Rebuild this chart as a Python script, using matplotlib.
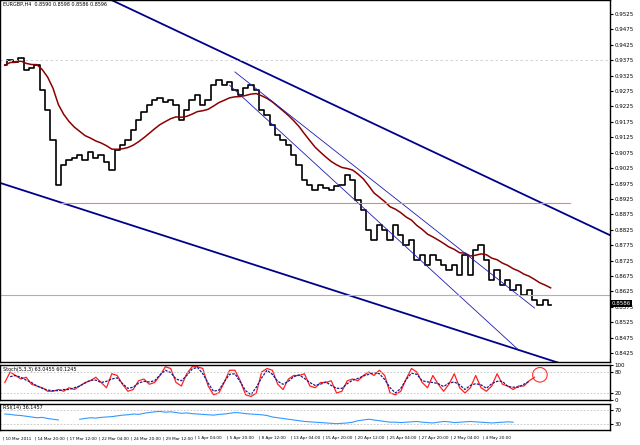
import numpy as np
import pandas as pd
import matplotlib
matplotlib.use("Agg")
import matplotlib.pyplot as plt

close = [0.9359,0.9375,0.9369,0.9382,0.9343,0.9349,0.9359,0.9278,0.9213,0.9116,0.8970,0.9035,0.9051,0.9057,0.9067,0.9051,0.9077,0.9057,0.9067,0.9044,0.9018,0.9083,0.9099,0.9116,0.9148,0.9181,0.9207,0.9229,0.9246,0.9252,0.9239,0.9246,0.9229,0.9181,0.9213,0.9246,0.9262,0.9229,0.9246,0.9294,0.9310,0.9294,0.9304,0.9278,0.9262,0.9284,0.9294,0.9278,0.9213,0.9197,0.9164,0.9132,0.9116,0.9099,0.9067,0.9035,0.8986,0.8970,0.8953,0.8970,0.8960,0.8953,0.8966,0.8970,0.9002,0.8986,0.8921,0.8889,0.8824,0.8791,0.8840,0.8824,0.8791,0.8840,0.8807,0.8775,0.8791,0.8726,0.8743,0.8710,0.8743,0.8726,0.8710,0.8694,0.8710,0.8678,0.8743,0.8678,0.8759,0.8775,0.8726,0.8661,0.8694,0.8645,0.8661,0.8629,0.8645,0.8613,0.8629,0.8597,0.8580,0.8597,0.8580]
stoch = [50,80,70,60,65,45,40,35,25,25,30,25,35,30,40,50,55,65,50,35,75,70,45,25,30,55,60,45,50,70,95,90,50,40,75,95,95,90,40,15,20,50,85,85,55,15,10,20,80,90,85,45,30,60,70,70,75,40,35,50,50,55,20,25,55,60,55,70,80,70,85,70,20,15,25,60,90,80,50,35,70,45,25,45,75,35,20,35,70,35,25,40,75,45,40,30,40,40,55,65]
rsi = [58,57,55,54,52,50,48,49,46,44,42,None,None,None,44,46,48,47,49,50,51,53,55,56,58,57,60,62,64,65,63,64,62,60,61,59,58,57,56,55,57,58,60,62,61,59,58,57,56,54,50,48,46,44,42,40,38,37,36,35,34,33,32,33,34,36,40,42,44,42,40,38,36,36,35,36,37,38,36,35,34,36,38,37,35,36,37,38,37,36,35,34,35,36,37,36]
price_ticks = [0.9525 - 0.005*k for k in range(23)]
date_labels = ["10 Mar 2011","14 Mar 20:00","17 Mar 12:00","22 Mar 04:00","24 Mar 20:00","29 Mar 12:00","1 Apr 04:00","5 Apr 20:00","8 Apr 12:00","13 Apr 04:00","15 Apr 20:00","20 Apr 12:00","25 Apr 04:00","27 Apr 20:00","2 May 04:00","4 May 20:00"]
# trend line anchors (bar index, price)
chan_upper = ([19.6, 116.8], [0.9573, 0.8777])
chan_lower = ([-0.9, 103.7], [0.8977, 0.8392])
thin_a = ([43, 99], [0.9337, 0.8571])
thin_b = ([42, 96], [0.9294, 0.8435])
hline_red = ([10.3, 105.6], [0.8911, 0.8911])
hline_grey = 0.8613
last_price = 0.8586

W, H = 640, 445
fig = plt.figure(figsize=(6.4, 4.45), dpi=100)
def ax_at(x0, y0, x1, y1):
    return fig.add_axes([x0/W, 1-y1/H, (x1-x0)/W, (y1-y0)/H])

xl = (-0.9, 113.1)
ax = ax_at(0, 0, 610, 362)
ax2 = ax_at(0, 365, 610, 400)
ax3 = ax_at(0, 404, 610, 430)
for a in (ax, ax2, ax3):
    a.set_xlim(*xl)
    a.yaxis.tick_right()
    a.tick_params(axis='y', labelsize=4, length=2, pad=1, colors='black')
    a.tick_params(axis='x', bottom=False, labelbottom=False)
    for s in a.spines.values():
        s.set_linewidth(1.0)

idx = np.arange(len(close))
c = np.array(close)
ax.set_ylim(0.9525 - 348*0.11/339, 0.9525 + 14*0.11/339)
ax.plot(idx, c, color='black', lw=1.2, drawstyle='steps-mid')
ma = pd.Series(c).ewm(span=14).mean().values
ax.plot(idx, ma, color='#8b0000', lw=1.1)
ax.plot(*chan_upper, color='#00008b', lw=1.3)
ax.plot(*chan_lower, color='#00008b', lw=1.3)
ax.plot(*thin_a, color='#1c1cb0', lw=0.6)
ax.plot(*thin_b, color='#1c1cb0', lw=0.6)
ax.plot(*hline_red, color='#f08080', lw=0.8)
ax.axhline(hline_grey, color='#b0b0b0', lw=0.8)
ax.axhline(0.9376, color='#cccccc', lw=0.6, ls=(0, (3, 3)))
ax.set_yticks(price_ticks)
ax.set_yticklabels([f"{v:.4f}" for v in price_ticks])
ax.text(1.003, last_price, f"{last_price:.4f}", transform=ax.get_yaxis_transform(),
        fontsize=4, color='white', va='center', bbox=dict(fc='black', ec='none', pad=0.5))
ax.text(0.005, 0.995, "EURGBP,H4  0.8590 0.8598 0.8586 0.8596", transform=ax.transAxes,
        fontsize=3.5, va='top', color='black')

s = np.array(stoch, float)
ax2.plot(np.arange(len(s)), s, color='#ff2020', lw=0.9)
sig = np.convolve(s, np.ones(3)/3, mode='valid')
ax2.plot(np.arange(len(sig))+1, sig, color='#1a1a8b', lw=0.9, ls=(0, (2, 1)))
ax2.set_ylim(0, 100)
for lv in (80, 20):
    ax2.axhline(lv, color='#c0c0c0', lw=0.6, ls=(0, (2, 2)))
ax2.set_yticks([0, 20, 80, 100]); ax2.set_yticklabels(['0', '20', '80', '100'])
ax2.text(0.005, 0.95, "Stoch(5,3,3) 63.0455 60.1245", transform=ax2.transAxes, fontsize=3.5, va='top')
ax2.scatter([len(s)], [72], s=110, facecolors='none', edgecolors='#ff3030', linewidths=0.8)

r = np.array([np.nan if v is None else v for v in rsi], float)
ax3.plot(np.arange(len(r)), r, color='#3399ff', lw=0.8)
ax3.set_ylim(15, 85)
for lv in (70, 30):
    ax3.axhline(lv, color='#c0c0c0', lw=0.6, ls=(0, (2, 2)))
ax3.set_yticks([30, 70]); ax3.set_yticklabels(['30', '70'])
ax3.text(0.005, 0.95, "RSI(14) 36.1457", transform=ax3.transAxes, fontsize=3.5, va='top')

for k, lab in enumerate(date_labels):
    xp = 3 + 32*k
    fig.text(xp/W, 1-438/H, "| " + lab, fontsize=3, va='center', ha='left')

fig.savefig("out.png", dpi=100, facecolor='white')
